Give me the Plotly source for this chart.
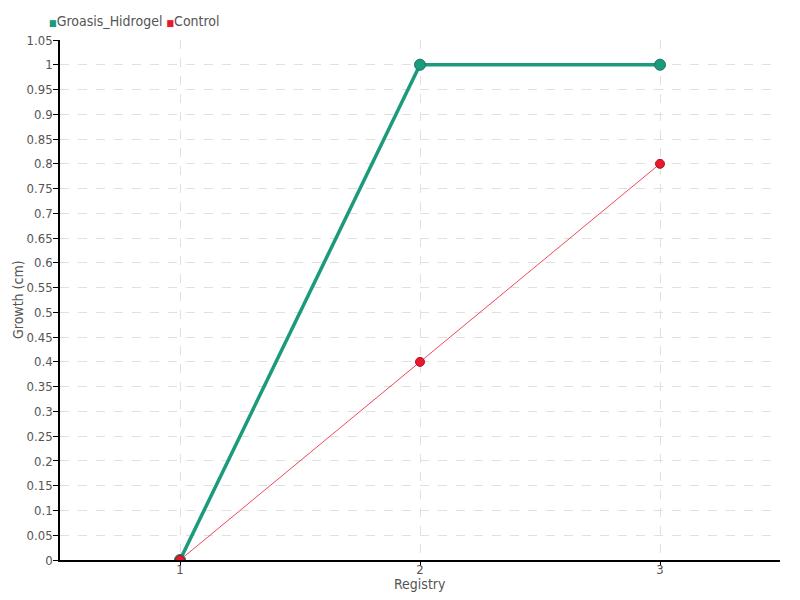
import plotly.graph_objects as go

registry = [1, 2, 3]
groasis = [0, 1, 1]
control = [0, 0.4, 0.8]
series_names = ["Groasis_Hidrogel", "Control"]
x_title = "Registry"
y_title = "Growth (cm)"

green = "#1b9a7c"
red = "#e8192c"
font = "DejaVu Sans Condensed, Roboto Condensed, Roboto, sans-serif"

fig = go.Figure()
fig.add_trace(go.Scatter(x=registry, y=groasis, mode="lines+markers", name=series_names[0],
                         line=dict(color=green, width=3.5),
                         marker=dict(size=11, color=green, line=dict(color="#137a60", width=1)),
                         showlegend=False))
fig.add_trace(go.Scatter(x=registry, y=control, mode="lines+markers", name=series_names[1],
                         line=dict(color="#f0485a", width=1),
                         marker=dict(size=9, color=red, line=dict(color="#b0101e", width=1)),
                         showlegend=False))

legend_text = (f"<span style='color:{green};font-size:9px'>■</span>{series_names[0]} "
               f"<span style='color:{red};font-size:9px'>■</span>{series_names[1]}")
fig.add_annotation(text=legend_text, xref="paper", yref="paper", x=-0.018, y=1 + 19 / 520,
                   xanchor="left", yanchor="middle", showarrow=False,
                   font=dict(family=font, size=14, color="#555555"))
fig.add_annotation(text=y_title, xref="paper", yref="paper", x=-42 / 720, y=0.5,
                   xanchor="center", yanchor="middle", textangle=-90, showarrow=False,
                   font=dict(family=font, size=14, color="#555555"))
fig.add_annotation(text=x_title, xref="paper", yref="paper", x=0.5, y=-24 / 520,
                   xanchor="center", yanchor="middle", showarrow=False,
                   font=dict(family=font, size=14, color="#555555"))

fig.update_layout(
    width=800, height=600,
    margin=dict(l=60, r=20, t=40, b=40),
    paper_bgcolor="white", plot_bgcolor="white",
    font=dict(family=font, size=14, color="#555555"),
    showlegend=False,
    xaxis=dict(range=[0.5, 3.5], tickvals=registry, ticktext=[str(v) for v in registry],
               showline=True, linecolor="black", linewidth=1.5, ticks="outside",
               ticklen=4, tickcolor="black", showgrid=True, gridcolor="#e0e0e0",
               griddash="dash", zeroline=False, automargin=False, ticklabelstandoff=-7,
               tickfont=dict(size=13)),
    yaxis=dict(range=[0, 1.05], dtick=0.05, tick0=0, tickformat="~g",
               showline=True, linecolor="black", linewidth=1.5, ticks="outside",
               ticklen=5, tickcolor="black", showgrid=True, gridcolor="#e0e0e0",
               griddash="dash", zeroline=False, automargin=False, ticklabelstandoff=-2,
               tickfont=dict(size=13)),
)

fig.write_html("out.html", config={"displayModeBar": False},
               post_script="document.body.style.margin='0';document.body.style.overflow='hidden';")
